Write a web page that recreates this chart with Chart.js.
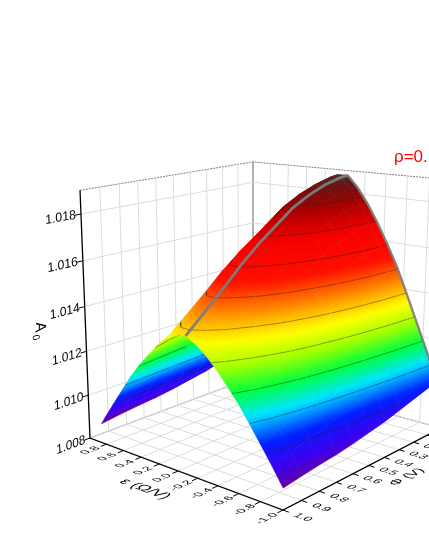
<!DOCTYPE html>
<html>
<head>
<meta charset="utf-8">
<title>A0 surface</title>
<script src="https://cdn.jsdelivr.net/npm/chart.js@4"></script>
<style>
html,body{margin:0;padding:0;background:#fff}
canvas{display:block}
</style>
</head>
<body>
<canvas id="myChart" width="429" height="555"></canvas>
<script>
//valores
var epsValues = [-1,-0.9,-0.8,-0.7,-0.6,-0.5,-0.4,-0.3,-0.2,-0.1,0,0.1,0.2,0.3,0.4,0.5,0.6,0.7,0.8,0.85];
var phiValues = [1,0.9,0.8,0.7,0.6,0.5,0.4,0.3,0.2,0.1,0.05];
var a0Phi100 = [1.00888,1.00962,1.01031,1.01099,1.01166,1.01222,1.01275,1.01321,1.01357,1.01382,1.01380,1.01348,1.01308,1.01257,1.01202,1.01140,1.01069,1.00998,1.00926,1.00888];
var a0Phi090 = [1.00900,1.00983,1.01060,1.01138,1.01212,1.01276,1.01335,1.01388,1.01428,1.01456,1.01454,1.01418,1.01354,1.01286,1.01222,1.01155,1.01081,1.01008,1.00936,1.00900];
var a0Phi080 = [1.00910,1.01003,1.01089,1.01175,1.01258,1.01330,1.01395,1.01454,1.01499,1.01530,1.01527,1.01488,1.01398,1.01315,1.01243,1.01170,1.01093,1.01018,1.00945,1.00910];
var a0Phi070 = [1.00918,1.01021,1.01117,1.01214,1.01306,1.01386,1.01459,1.01524,1.01574,1.01609,1.01606,1.01562,1.01447,1.01346,1.01264,1.01186,1.01105,1.01028,1.00953,1.00918];
var a0Phi060 = [1.00930,1.01042,1.01146,1.01250,1.01350,1.01436,1.01515,1.01586,1.01641,1.01678,1.01675,1.01627,1.01489,1.01373,1.01283,1.01200,1.01116,1.01038,1.00963,1.00930];
var a0Phi050 = [1.00945,1.01063,1.01174,1.01284,1.01390,1.01481,1.01565,1.01640,1.01698,1.01737,1.01734,1.01683,1.01527,1.01397,1.01300,1.01213,1.01127,1.01048,1.00974,1.00945];
var a0Phi040 = [1.00960,1.01085,1.01201,1.01318,1.01430,1.01526,1.01614,1.01694,1.01755,1.01796,1.01793,1.01739,1.01562,1.01421,1.01318,1.01226,1.01138,1.01058,1.00985,1.00960];
var a0Phi030 = [1.00980,1.01108,1.01227,1.01346,1.01461,1.01559,1.01650,1.01731,1.01793,1.01836,1.01833,1.01778,1.01592,1.01438,1.01331,1.01237,1.01147,1.01068,1.00998,1.00980];
var a0Phi020 = [1.01000,1.01129,1.01250,1.01370,1.01487,1.01586,1.01678,1.01759,1.01823,1.01866,1.01862,1.01807,1.01608,1.01452,1.01341,1.01246,1.01156,1.01076,1.01011,1.01000];
var a0Phi010 = [1.01020,1.01148,1.01267,1.01386,1.01501,1.01599,1.01690,1.01771,1.01837,1.01884,1.01882,1.01818,1.01616,1.01458,1.01347,1.01251,1.01166,1.01083,1.01022,1.01020];
var a0Phi005 = [1.01030,1.01156,1.01274,1.01392,1.01506,1.01603,1.01692,1.01772,1.01838,1.01888,1.01887,1.01819,1.01617,1.01460,1.01347,1.01252,1.01164,1.01086,1.01027,1.01030];
var a0Rows = [a0Phi100,a0Phi090,a0Phi080,a0Phi070,a0Phi060,a0Phi050,a0Phi040,a0Phi030,a0Phi020,a0Phi010,a0Phi005];

//etiquetas de los ejes
var a0Ticks = [1.008,1.010,1.012,1.014,1.016,1.018];
var epsTicks = [0.8,0.6,0.4,0.2,0,-0.2,-0.4,-0.6,-0.8,-1];
var phiTicks = [1,0.9,0.8,0.7,0.6,0.5,0.4,0.3,0.2,0.1];
var contourLevels = [1.010,1.011,1.012,1.013,1.014,1.015,1.016,1.017,1.018];

//paleta por valor de A0
var colorLevels = [1.0088,1.0095,1.0103,1.0112,1.0120,1.0128,1.0136,1.0145,1.0155,1.0168,1.0178,1.0185,1.0190];
var colorRGB = [[104,0,150],[60,0,240],[0,30,255],[0,230,255],[0,255,60],[160,255,0],[255,255,0],[255,140,0],[255,15,0],[245,0,0],[170,0,0],[110,15,15],[80,50,50]];

var a0Min = 1.008, a0Max = 1.019;

//caja de la grafica en perspectiva: suelo y punto de fuga vertical
var cC = [283,510], cB = [90,438], cA = [253,377], cD = [441,428];
var vert = [253,4481], vertK = -0.0685;
var den = (cB[0]-cA[0])*(cD[1]-cA[1])-(cD[0]-cA[0])*(cB[1]-cA[1]);
var sx = cC[0]-cB[0]+cA[0]-cD[0], sy = cC[1]-cB[1]+cA[1]-cD[1];
var hg = (sx*(cD[1]-cA[1])-(cD[0]-cA[0])*sy)/den;
var hh = ((cB[0]-cA[0])*sy-sx*(cB[1]-cA[1]))/den;

function homog(eps,phi,a0){
    var u = (eps+1)/2, v = 1-phi, w = (a0-a0Min)/(a0Max-a0Min);
    var W = 1+hg*u+hh*v;
    var X = cC[0]+(cB[0]-cC[0]+hg*cB[0])*u+(cD[0]-cC[0]+hh*cD[0])*v;
    var Y = cC[1]+(cB[1]-cC[1]+hg*cB[1])*u+(cD[1]-cC[1]+hh*cD[1])*v;
    return [X+vertK*w*vert[0],Y+vertK*w*vert[1],W+vertK*w];
}
function project(eps,phi,a0){
    var h = homog(eps,phi,a0);
    return {x:h[0]/h[2],y:h[1]/h[2]};
}
function a0Color(val){
    var i = 0;
    if(val<=colorLevels[0]) return colorRGB[0];
    while(i<colorLevels.length-2 && val>colorLevels[i+1]) i++;
    var t = Math.min(1,(val-colorLevels[i])/(colorLevels[i+1]-colorLevels[i]));
    return [0,1,2].map(function(c){return Math.round(colorRGB[i][c]+(colorRGB[i+1][c]-colorRGB[i][c])*t)});
}
function css(c){return "rgb("+c[0]+","+c[1]+","+c[2]+")"}

var ctx = document.getElementById("myChart").getContext("2d");

//degradado de una celda segun el plano que pasa por sus esquinas
function cellPaint(p,a){
    var lo = Math.min.apply(null,a), hi = Math.max.apply(null,a), mean = (a[0]+a[1]+a[2]+a[3])/4;
    var d1x = p[2].x-p[0].x, d1y = p[2].y-p[0].y, d2x = p[3].x-p[1].x, d2y = p[3].y-p[1].y;
    var det = d1x*d2y-d1y*d2x;
    if(Math.abs(det)<2 || hi-lo<1e-6) return css(a0Color(mean));
    var ga = ((a[2]-a[0])*d2y-(a[3]-a[1])*d1y)/det, gb = (d1x*(a[3]-a[1])-d2x*(a[2]-a[0]))/det;
    var g2 = ga*ga+gb*gb;
    var cx = (p[0].x+p[1].x+p[2].x+p[3].x)/4, cy = (p[0].y+p[1].y+p[2].y+p[3].y)/4;
    var grad = ctx.createLinearGradient(cx+ga*(lo-mean)/g2,cy+gb*(lo-mean)/g2,cx+ga*(hi-mean)/g2,cy+gb*(hi-mean)/g2);
    for(var s=0;s<=8;s++) grad.addColorStop(s/8,css(a0Color(lo+(hi-lo)*s/8)));
    return grad;
}
function lineSet(points,color,width,dash){
    return {data:points,borderColor:color,borderWidth:width,borderDash:dash||[],pointRadius:0,fill:false,tension:0};
}

//rejilla de fondo
var gridSets = [], axisSets = [];
var gridColor = "#dcdcdc", edgeColor = "#7d7d7d";
var i, j;
a0Ticks.forEach(function(z){
    gridSets.push(lineSet([project(1,1,z),project(1,0,z),project(-1,0,z)],gridColor,1));
});
epsTicks.forEach(function(e){
    if(e==-1) return;
    gridSets.push(lineSet([project(e,1,a0Min),project(e,0,a0Min),project(e,0,a0Max)],gridColor,1));
});
phiTicks.forEach(function(f){
    if(f==1) return;
    gridSets.push(lineSet([project(-1,f,a0Min),project(1,f,a0Min),project(1,f,a0Max)],gridColor,1));
});
gridSets.push(lineSet([project(1,1,a0Min),project(1,0,a0Min),project(-1,0,a0Min)],edgeColor,1));
gridSets.push(lineSet([project(1,0,a0Min),project(1,0,a0Max)],edgeColor,1.2));
gridSets.push(lineSet([project(1,1,a0Max),project(1,0,a0Max),project(-1,0,a0Max)],edgeColor,1,[2,1]));

//ejes negros y marcas
axisSets.push(lineSet([project(1,1,a0Max),project(1,1,a0Min),project(-1,1,a0Min),project(-1,0,a0Min)],"#000",1.3));
a0Ticks.forEach(function(z){axisSets.push(lineSet([project(1,1,z),project(1,1.03,z)],"#000",1))});
epsTicks.forEach(function(e){axisSets.push(lineSet([project(e,1,a0Min),project(e,1.03,a0Min)],"#000",1))});
phiTicks.forEach(function(f){axisSets.push(lineSet([project(-1,f,a0Min),project(-1.05,f,a0Min)],"#000",1))});

//celdas de la superficie, de cerca a lejos (Chart.js pinta el dataset 0 el ultimo)
var cells = [];
for(j=0;j<phiValues.length-1;j++){
    for(i=0;i<epsValues.length-1;i++){
        var corners = [[i,j],[i+1,j],[i+1,j+1],[i,j+1]];
        var vals = corners.map(function(c){return a0Rows[c[1]][c[0]]});
        var pts = corners.map(function(c){return project(epsValues[c[0]],phiValues[c[1]],a0Rows[c[1]][c[0]])});
        var depth = 0;
        corners.forEach(function(c){depth += homog(epsValues[c[0]],phiValues[c[1]],a0Rows[c[1]][c[0]])[2]});
        var paint = cellPaint(pts,vals);
        var group = [{data:pts.concat([pts[0]]),borderColor:paint,backgroundColor:paint,borderWidth:0.7,pointRadius:0,fill:"shape",tension:0}];
        //isolineas que cruzan la celda
        contourLevels.forEach(function(level){
            var cross = [];
            corners.forEach(function(c,n){
                var c2 = corners[(n+1)%4], a1 = vals[n], a2 = vals[(n+1)%4];
                if((a1-level)*(a2-level)<0){
                    var t = (level-a1)/(a2-a1);
                    cross.push(project(epsValues[c[0]]+(epsValues[c2[0]]-epsValues[c[0]])*t,phiValues[c[1]]+(phiValues[c2[1]]-phiValues[c[1]])*t,level));
                }
            });
            if(cross.length==2) group.unshift(lineSet(cross,"rgba(30,30,30,0.6)",0.7));
        });
        cells.push({depth:depth,group:group});
    }
}
cells.sort(function(a,b){return a.depth-b.depth});
var cellSets = [];
cells.forEach(function(c){cellSets = cellSets.concat(c.group)});

//cresta y borde del fondo en gris
var ridge = a0Rows.map(function(row,r){
    var best = row.indexOf(Math.max.apply(null,row));
    return project(epsValues[best],phiValues[r],row[best]);
});
var lastRow = a0Rows[a0Rows.length-1], lastPhi = phiValues[phiValues.length-1];
var backEdge = [];
for(i=lastRow.indexOf(Math.max.apply(null,lastRow));i>=0;i--) backEdge.push(project(epsValues[i],lastPhi,lastRow[i]));
var graySets = [lineSet(ridge,"rgba(125,125,125,0.95)",2.8),lineSet(backEdge,"rgba(125,125,125,0.9)",2.4)];

//textos en el plano de cada eje
function unit(a,b,scale){
    var dx = b.x-a.x, dy = b.y-a.y, n = Math.sqrt(dx*dx+dy*dy);
    return {x:dx/n*scale,y:dy/n*scale};
}
function planeText(c,txt,pos,xv,dv,font,color){
    c.save();
    c.transform(xv.x,xv.y,dv.x,dv.y,pos.x,pos.y);
    c.font = font;
    c.fillStyle = color||"#000";
    c.textAlign = "center";
    c.textBaseline = "middle";
    c.fillText(txt,0,0);
    c.restore();
}
var textPlugin = {
    id:"axisText",
    afterDraw:function(chart){
        var c = chart.ctx;
        a0Ticks.forEach(function(z){
            var o = project(1,1.1,z);
            var xv = unit(project(1,1,z),project(1,0.9,z),0.95), dv = unit(project(1,1,z+0.001),project(1,1,z),1);
            planeText(c,z.toFixed(3),o,xv,dv,"13px 'Liberation Sans'");
        });
        epsTicks.forEach(function(e){
            var o = project(e,1.085,a0Min);
            var xv = unit(project(e,1,a0Min),project(e,0.9,a0Min),1), dv = unit(project(e,1,a0Min),project(e-0.1,1,a0Min),0.85);
            planeText(c,e.toFixed(1),o,xv,dv,"12px 'Liberation Sans'");
        });
        phiTicks.forEach(function(f){
            var o = project(-1.17,f,a0Min);
            var xv = unit(project(-1,f,a0Min),project(-1.1,f,a0Min),1), dv = unit(project(-1,f,a0Min),project(-1,f+0.1,a0Min),0.85);
            planeText(c,f.toFixed(1),o,xv,dv,"12px 'Liberation Sans'");
        });
        planeText(c,"ε (Ω/V)",{x:145,y:489},unit(cB_p,cC_p,1),unit(cC_p,project(-1,1.1,a0Min),0.9),"16px 'Liberation Sans'");
        planeText(c,"Φ (V)",{x:407,y:477},unit(cC_p,cD_p,1),unit(cC_p,project(-1.1,1,a0Min),0.9),"14px 'Liberation Sans'");
        c.save();
        c.transform(-0.05,1,-1,0.16,40,327);
        c.font = "15px 'Liberation Sans'";
        c.textAlign = "center";
        c.textBaseline = "middle";
        c.fillStyle = "#000";
        c.fillText("A",0,0);
        c.font = "10px 'Liberation Sans'";
        c.fillText("0",10,4);
        c.restore();
        c.font = "17px 'Liberation Sans'";
        c.fillStyle = "#ff0000";
        c.textAlign = "left";
        c.textBaseline = "alphabetic";
        c.fillText("ρ=0.",394,162);
    }
};
var cB_p = project(1,1,a0Min), cC_p = project(-1,1,a0Min), cD_p = project(-1,0,a0Min);

var myChart = new Chart(ctx,{
    type:"line",
    data:{datasets:axisSets.concat(graySets,cellSets,gridSets)},
    plugins:[textPlugin],
    options:{
        responsive:false,
        animation:false,
        events:[],
        layout:{padding:0},
        plugins:{legend:{display:false},tooltip:{enabled:false},title:{display:false}},
        scales:{
            x:{type:"linear",min:0,max:429,display:false},
            y:{type:"linear",min:0,max:555,reverse:true,display:false}
        }
    }
});
</script>
</body>
</html>
